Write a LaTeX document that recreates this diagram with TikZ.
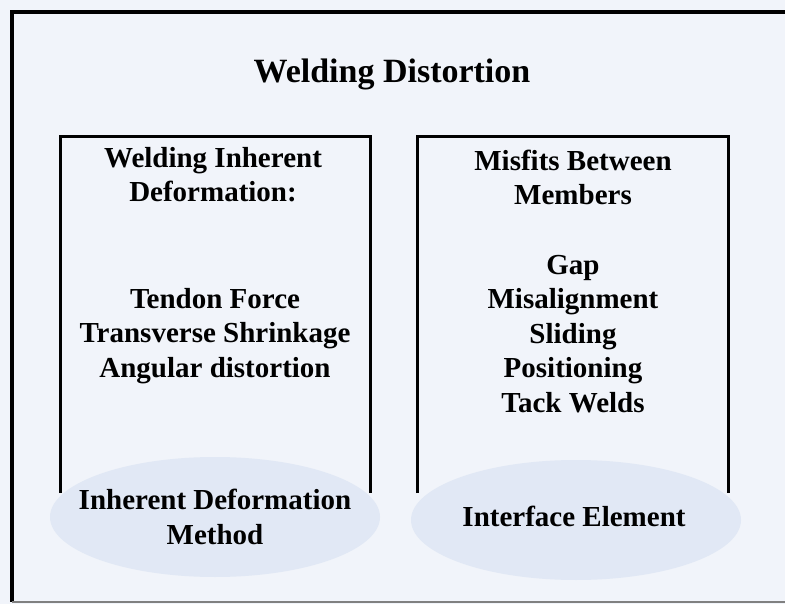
\documentclass[tikz,border=0pt]{standalone}
\usepackage{fontspec}
\setmainfont{Liberation Serif}
\usetikzlibrary{positioning, shapes.geometric}
\definecolor{paperblue}{RGB}{241,244,250}
\definecolor{blobblue}{RGB}{225,232,245}
\tikzset{frame/.style={line width=3pt},
  boxtext/.style={align=center, font=\fontsize{29}{34.5}\selectfont\bfseries, inner sep=0pt},
  blob/.style={fill=blobblue, x radius=165, y radius=60},}

\begin{document}
\begin{tikzpicture}[x=1pt, y=-1pt]
  % Page
  \path[fill=paperblue] (0,0) rectangle (785,604);
  \useasboundingbox (0,0) rectangle (785,604);
  \draw[line width=3.6pt] (795,12) -- (12,12) -- (12,602);
  \draw[line width=1.5pt, gray] (12,602) -- (795,602);
  % Methods
  \path[blob] (215,517) ellipse [];
  \path[blob] (576,520) ellipse [];
  \node[boxtext] (idm) at (215,517) {Inherent Deformation\\Method};
  \node[boxtext] (iface) at (574,516) {Interface Element};
  % Boxes
  \draw[frame] (60,493) -- (60,137) -- (370,137) -- (370,493);
  \draw[frame] (417,493) -- (417,137) -- (728,137) -- (728,493);
  % Texts
  \node[font=\fontsize{34}{40}\selectfont\bfseries, anchor=base] (title) at (392,83) {Welding Distortion};
  \node[boxtext, anchor=base] (lefthead) at (213,202) {Welding Inherent\\Deformation:};
  \node[boxtext, anchor=base] (leftlist) at (215,377) {Tendon Force\\Transverse Shrinkage\\Angular distortion};
  \node[boxtext, anchor=base] (righthead) at (573,205) {Misfits Between\\Members};
  \node[boxtext, anchor=base] (rightlist) at (573,412) {Gap\\Misalignment\\Sliding\\Positioning\\Tack Welds};
\end{tikzpicture}
\end{document}
